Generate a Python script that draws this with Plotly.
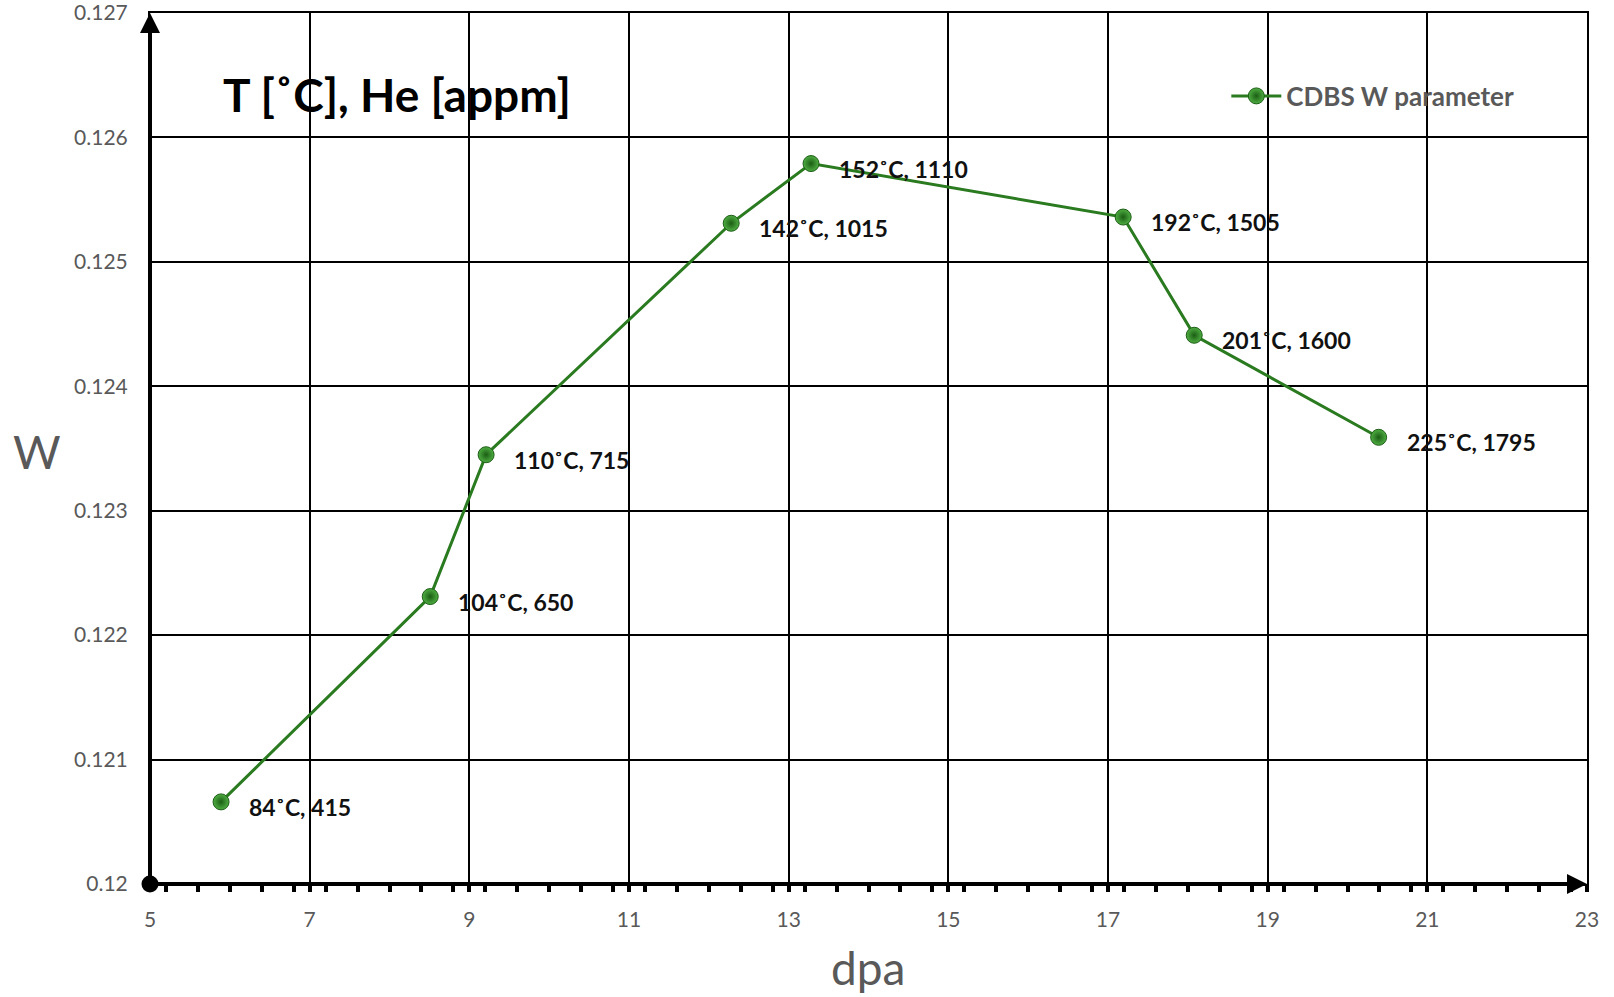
import plotly.graph_objects as go

# ---- data ----
dpa = [5.89, 8.51, 9.21, 12.28, 13.28, 17.19, 18.08, 20.39]
w_param = [0.12066, 0.12231, 0.12345, 0.12531, 0.12579, 0.12536, 0.12441, 0.12359]
temp_c = [84, 104, 110, 142, 152, 192, 201, 225]
he_appm = [415, 650, 715, 1015, 1110, 1505, 1600, 1795]

x_range = [5, 23]
y_range = [0.120, 0.127]
x_dtick = 2
y_dtick = 0.001

series_name = "CDBS W parameter"
chart_title = "T [˚C], He [appm]"
x_title = "dpa"
y_title = "W"

W, H = 1614, 997
ML, MR, MT, MB = 150, 27, 13, 113

LINE_GREEN = "#2a7a1f"
FONT = "Lato"
GRAY = "#595959"

fig = go.Figure()
fig.add_trace(go.Scatter(
    x=dpa, y=w_param, mode="lines+markers", name=series_name,
    line=dict(color=LINE_GREEN, width=3),
    marker=dict(size=16, color="#4fae42", line=dict(color="#1d5e16", width=1),
                gradient=dict(type="radial", color="#1b5e14")),
))

# origin dot (axis decoration)
fig.add_trace(go.Scatter(
    x=[x_range[0]], y=[y_range[0]], mode="markers", showlegend=False, hoverinfo="skip",
    marker=dict(size=17, color="black"), cliponaxis=False,
))

annotations = []
for xv, yv, t, he in zip(dpa, w_param, temp_c, he_appm):
    annotations.append(dict(
        x=xv, y=yv, xref="x", yref="y", text=f"{t}˚C, {he}",
        showarrow=False, xanchor="left", yanchor="middle",
        xshift=26, yshift=-5,
        font=dict(family=FONT, size=23, color="#111111", weight="bold"),
    ))

# axis arrows (left and bottom)
annotations.append(dict(x=x_range[1], y=y_range[0], ax=x_range[0], ay=y_range[0],
                        xref="x", yref="y", axref="x", ayref="y", text="",
                        showarrow=True, arrowhead=2, arrowsize=1.0, arrowwidth=4,
                        arrowcolor="black", standoff=0))
annotations.append(dict(x=x_range[0], y=y_range[1], ax=x_range[0], ay=y_range[0],
                        xref="x", yref="y", axref="x", ayref="y", text="",
                        showarrow=True, arrowhead=2, arrowsize=1.0, arrowwidth=4,
                        arrowcolor="black", standoff=0))

pw = W - ML - MR
ph = H - MT - MB
annotations.append(dict(x=(221 - ML) / pw, y=(H - MB - 95) / ph, xref="paper", yref="paper",
                        text=chart_title, showarrow=False, xanchor="left", yanchor="middle",
                        font=dict(family=FONT, size=46, color="black", weight="bold")))
annotations.append(dict(x=(37 - ML) / pw, y=(H - MB - 451) / ph, xref="paper", yref="paper",
                        text=y_title, showarrow=False, xanchor="center", yanchor="middle",
                        font=dict(family=FONT, size=46, color=GRAY)))
annotations.append(dict(x=(868 - ML) / pw, y=(H - MB - 968) / ph, xref="paper", yref="paper",
                        text=x_title, showarrow=False, xanchor="center", yanchor="middle",
                        font=dict(family=FONT, size=46, color=GRAY)))

fig.update_layout(
    width=W, height=H,
    margin=dict(l=ML, r=MR, t=MT, b=MB, autoexpand=False),
    paper_bgcolor="white", plot_bgcolor="white",
    showlegend=True,
    legend=dict(x=0.749, y=(H - MB - 96) / ph, xanchor="left", yanchor="middle",
                bgcolor="rgba(0,0,0,0)", itemwidth=50,
                font=dict(family=FONT, size=26, color=GRAY, weight="bold")),
    annotations=annotations,
    xaxis=dict(range=x_range, dtick=x_dtick, tick0=5, showgrid=True, gridcolor="black",
               gridwidth=2, zeroline=False, showline=True, mirror=True, linecolor="black",
               linewidth=2, ticks="outside", ticklen=6, tickwidth=4, tickcolor="black",
               minor=dict(dtick=0.4, ticks="outside", ticklen=6, tickwidth=4,
                          tickcolor="black", showgrid=False),
               automargin=False, ticklabeloverflow="allow",
               tickfont=dict(family=FONT, size=21, color=GRAY), ticklabelstandoff=10),
    yaxis=dict(range=y_range, dtick=y_dtick, tick0=0.12, showgrid=True, gridcolor="black",
               gridwidth=2, zeroline=False, showline=True, mirror=True, linecolor="black",
               linewidth=2, ticks="", tickformat=".3~f", automargin=False,
               ticklabeloverflow="allow",
               tickfont=dict(family=FONT, size=21, color=GRAY), ticklabelstandoff=16),
)

fig.write_html("out.html")
